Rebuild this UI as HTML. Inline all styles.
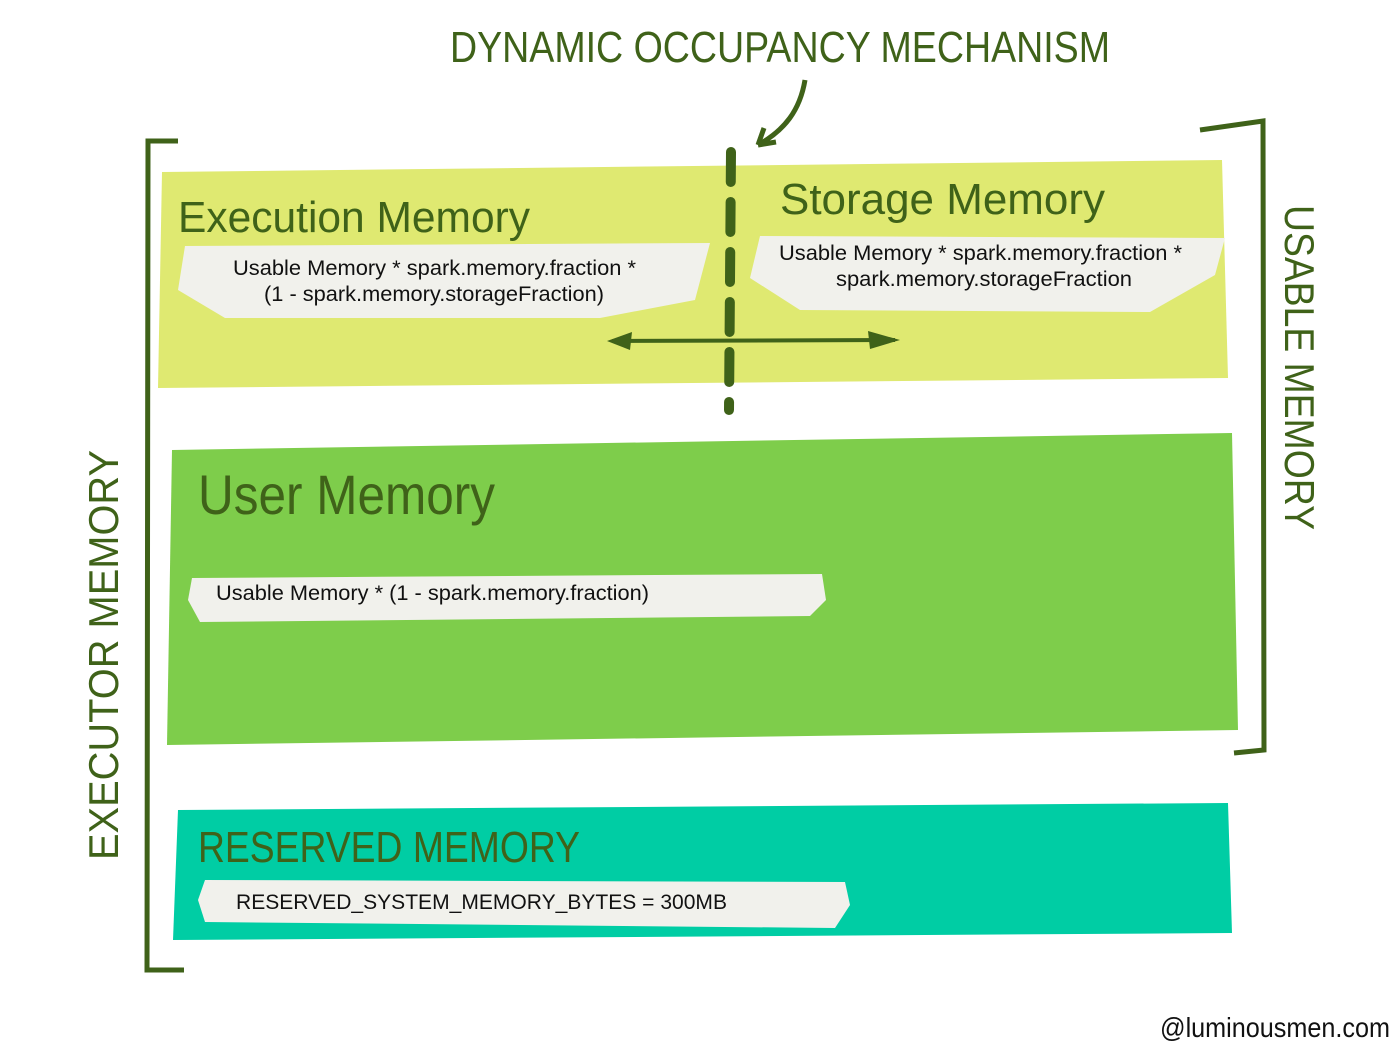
<!DOCTYPE html>
<html><head><meta charset="utf-8"><style>
html,body{margin:0;padding:0;background:#fff;}
svg{display:block}
.h{font-family:"Liberation Sans",sans-serif;fill:#3f6219;}
.t{font-family:"Liberation Sans",sans-serif;fill:#111;font-size:21.5px;}
</style></head><body>
<svg width="1400" height="1049" viewBox="0 0 1400 1049" xmlns="http://www.w3.org/2000/svg">
<rect width="1400" height="1049" fill="#fff"/>
<text class="h" x="450" y="62" font-size="44" textLength="660" lengthAdjust="spacingAndGlyphs">DYNAMIC OCCUPANCY MECHANISM</text>
<path d="M805,80 C800,110 785,130 758,145" stroke="#3f6219" stroke-width="5" fill="none"/>
<path d="M758,145 L764,128 M758,145 L776,142" stroke="#3f6219" stroke-width="5" fill="none"/>
<path d="M178,141 L148,141 L147,970 L184,970" stroke="#3f6219" stroke-width="5" fill="none"/>
<path d="M1200,130 L1263,121 L1264,750 L1234,753" stroke="#3f6219" stroke-width="5" fill="none"/>
<polygon points="162,172 1222,160 1228,378 158,388" fill="#dfe971"/>
<polygon points="172,450 1232,433 1238,730 167,745" fill="#7ecd4b"/>
<polygon points="178,810 1228,803 1232,933 173,940" fill="#00cda4"/>
<polygon points="185,246 710,243 695,300 600,318 225,318 178,290" fill="#f1f1ec"/>
<polygon points="760,236 1225,238 1215,275 1150,312 800,310 750,278" fill="#f1f1ec"/>
<polygon points="192,578 822,574 826,600 810,616 200,622 188,600" fill="#f1f1ec"/>
<polygon points="205,880 845,882 850,905 835,928 205,922 198,900" fill="#f1f1ec"/>
<text class="h" x="178" y="232" font-size="44" textLength="352" lengthAdjust="spacingAndGlyphs">Execution Memory</text>
<text class="h" x="780" y="214" font-size="44" textLength="325" lengthAdjust="spacingAndGlyphs">Storage Memory</text>
<text class="h" x="198" y="514" font-size="56" textLength="297" lengthAdjust="spacingAndGlyphs">User Memory</text>
<text class="h" x="198" y="862" font-size="44" textLength="382" lengthAdjust="spacingAndGlyphs">RESERVED MEMORY</text>
<text class="t" x="233" y="275" textLength="403" lengthAdjust="spacingAndGlyphs">Usable Memory * spark.memory.fraction *</text>
<text class="t" x="264" y="301" textLength="340" lengthAdjust="spacingAndGlyphs">(1 - spark.memory.storageFraction)</text>
<text class="t" x="779" y="260" textLength="403" lengthAdjust="spacingAndGlyphs">Usable Memory * spark.memory.fraction *</text>
<text class="t" x="836" y="286" textLength="296" lengthAdjust="spacingAndGlyphs">spark.memory.storageFraction</text>
<text class="t" x="216" y="600" textLength="433" lengthAdjust="spacingAndGlyphs">Usable Memory * (1 - spark.memory.fraction)</text>
<text class="t" x="236" y="909" textLength="491" lengthAdjust="spacingAndGlyphs">RESERVED_SYSTEM_MEMORY_BYTES = 300MB</text>
<line x1="731" y1="152" x2="729" y2="410" stroke="#3f6219" stroke-width="10" stroke-dasharray="30,20" stroke-linecap="round"/>
<line x1="612" y1="341" x2="895" y2="340" stroke="#3f6219" stroke-width="4"/>
<polygon points="607,341 632,332 630,350" fill="#3f6219"/>
<polygon points="900,340 868,331 870,349" fill="#3f6219"/>
<text class="h" font-size="42" transform="translate(118,860) rotate(-90)" textLength="410" lengthAdjust="spacingAndGlyphs">EXECUTOR   MEMORY</text>
<text class="h" font-size="42" transform="translate(1285,205) rotate(90)" textLength="325" lengthAdjust="spacingAndGlyphs">USABLE  MEMORY</text>
<text x="1160" y="1037" font-family="Liberation Sans,sans-serif" font-size="28" fill="#111" textLength="230" lengthAdjust="spacingAndGlyphs">@luminousmen.com</text>
</svg>
</body></html>
